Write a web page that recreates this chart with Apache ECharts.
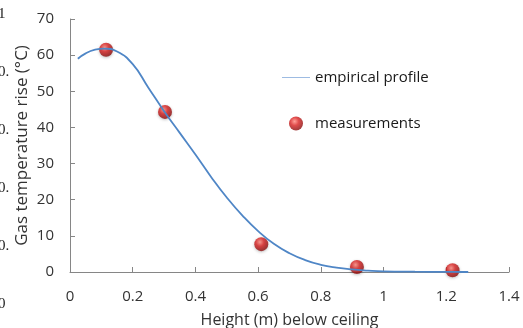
<!DOCTYPE html>
<html>
<head>
<meta charset="utf-8">
<script src="https://cdn.jsdelivr.net/npm/echarts@6/dist/echarts.min.js"></script>
<style>
html, body { margin: 0; padding: 0; background: #fff; }
#chartContainer { width: 523px; height: 328px; }
</style>
</head>
<body>
<div id="chartContainer"></div>
<script>
// fitted curve
var profileX = [0.025, 0.05, 0.08, 0.11, 0.15, 0.2, 0.25, 0.3, 0.35, 0.4, 0.45, 0.5, 0.55, 0.6, 0.65, 0.7, 0.75, 0.8, 0.85, 0.9, 0.95, 1.0, 1.1, 1.2, 1.27];
var profileY = [59, 60.5, 61.5, 61.8, 61, 57.5, 51, 44.5, 38.5, 32.5, 26.3, 20.6, 15.6, 11.3, 7.8, 5.2, 3.3, 2.0, 1.2, 0.7, 0.4, 0.2, 0.08, 0.02, 0];
// measured points
var measureX = [0.115, 0.303, 0.61, 0.915, 1.22];
var measureY = [61.5, 44.3, 7.7, 1.4, 0.5];
// clipped labels of a neighbouring figure at the left edge
var leftLabels = ['1', '0.', '0.', '0.', '0.', '0'];

var chartFont = '"Open Sans", sans-serif';

var sphere = {
	type: 'radial', x: 0.4, y: 0.35, r: 0.65,
	colorStops: [
		{ offset: 0, color: '#ff8a80' },
		{ offset: 0.45, color: '#d92020' },
		{ offset: 1, color: '#8a0c0c' }
	]
};

function buildPairs(xs, ys) {
	var out = [];
	for (var i = 0; i < xs.length; i++) {
		out.push([xs[i], ys[i]]);
	}
	return out;
}

var graphics = [];
for (var i = 0; i < leftLabels.length; i++) {
	graphics.push({
		type: 'text', left: -2, top: 7 + i * 58,
		style: { text: leftLabels[i], font: '15px "Liberation Serif", "DejaVu Serif", serif', fill: '#222' }
	});
}

var myChart = echarts.init(document.getElementById('chartContainer'));
var option = {
	animation: false,
	textStyle: { fontFamily: chartFont },
	grid: { left: 70, right: 14, top: 19, bottom: 56, containLabel: false, outerBoundsMode: 'none' },
	graphic: graphics,
	legend: {
		orient: 'vertical',
		left: 277, top: 65,
		itemGap: 31,
		itemWidth: 28,
		itemHeight: 14,
		textStyle: { fontSize: 15, color: '#1a1a1a', fontFamily: chartFont },
		data: [
			{ name: 'empirical profile', icon: 'path://M0,6.5 L28,6.5 L28,7.5 L0,7.5 Z', itemStyle: { color: '#9dbbe2' } },
			{ name: 'measurements', icon: 'circle' }
		]
	},
	xAxis: {
		type: 'value',
		min: 0, max: 1.4, interval: 0.2,
		name: 'Height (m) below ceiling',
		nameLocation: 'middle',
		nameGap: 40,
		nameTextStyle: { fontSize: 16, color: '#333' },
		axisLine: { lineStyle: { color: '#868686', width: 1 } },
		axisTick: { inside: true, length: 5, lineStyle: { color: '#868686' } },
		axisLabel: { fontSize: 15, color: '#333', margin: 17 },
		splitLine: { show: false }
	},
	yAxis: {
		type: 'value',
		min: 0, max: 70, interval: 10,
		name: 'Gas temperature rise (°C)',
		nameLocation: 'middle',
		nameGap: 39,
		nameMoveOverlap: false,
		nameTextStyle: { fontSize: 17, color: '#333' },
		axisLine: { show: true, lineStyle: { color: '#868686', width: 1 } },
		axisTick: { show: true, inside: true, length: 5, lineStyle: { color: '#868686' } },
		axisLabel: { fontSize: 15, color: '#333', margin: 16 },
		splitLine: { show: false }
	},
	series: [
		{
			name: 'empirical profile',
			type: 'line',
			smooth: true,
			showSymbol: false,
			lineStyle: { color: '#4f86c6', width: 1.8 },
			itemStyle: { color: '#9dbbe2' },
			data: buildPairs(profileX, profileY)
		},
		{
			name: 'measurements',
			type: 'scatter',
			symbolSize: 14,
			itemStyle: { color: sphere, shadowBlur: 3, shadowColor: 'rgba(0,0,0,0.3)', shadowOffsetY: 1 },
			data: buildPairs(measureX, measureY)
		}
	]
};
myChart.setOption(option);
</script>
</body>
</html>
